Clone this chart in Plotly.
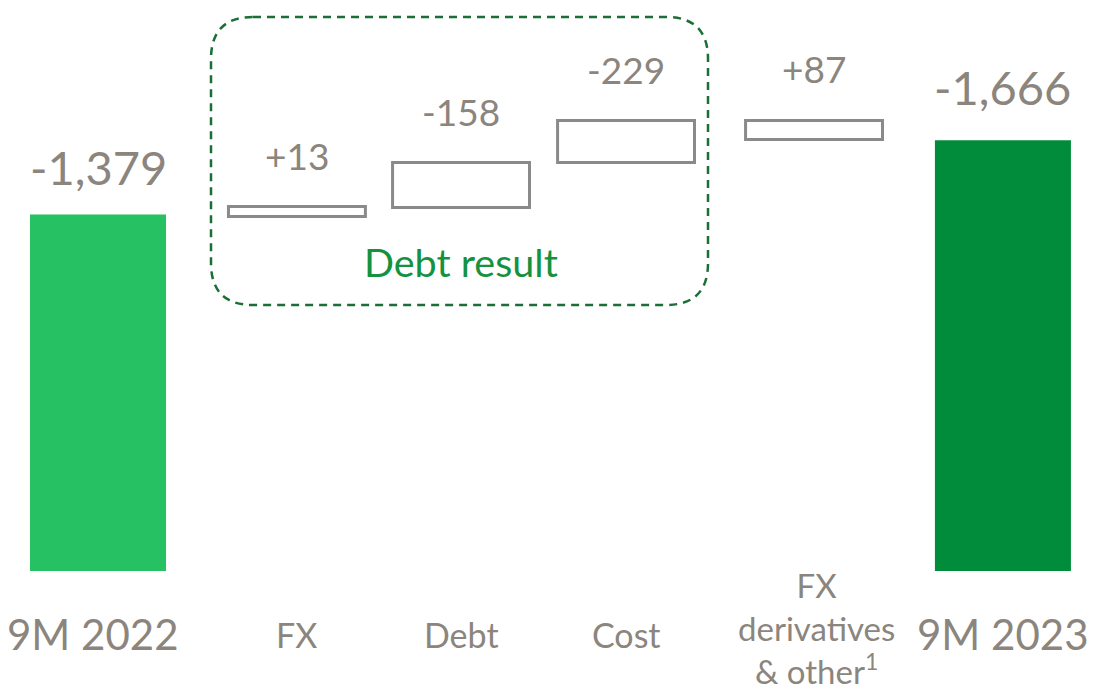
import plotly.graph_objects as go

# ---------------- data ----------------
categories = ["9M 2022", "FX", "Debt", "Cost", "FX<br>derivatives<br>& other<sup>1</sup>", "9M 2023"]
value_labels = ["-1,379", "+13", "-158", "-229", "+87", "-1,666"]

# totals (drawn as solid bars from zero)
total_values = [1379, 1666]
# intermediate steps (hollow boxes), levels
step_low = [1371, 1406, 1580, 1669]
step_high = [1410, 1580, 1743, 1743]

# ---------------- layout helpers ----------------
W, H = 1094, 688
x_pos = [0.0, 1.091, 1.991, 2.896, 3.927, 4.963]
x_range = [-0.5375, 5.4625]
y_scale = 0.2585           # px per unit
base_px = 571              # pixel row of zero
y_max = base_px / y_scale
y_min = -(H - base_px) / y_scale

text_color = "#8b857d"
green_light = "#26c163"
green_dark = "#008c3a"
box_color = "#8a8a8a"

fig = go.Figure()

fig.add_trace(go.Bar(
    x=[x_pos[0], x_pos[5]],
    y=total_values,
    base=[0, 0],
    width=0.746,
    marker=dict(color=[green_light, green_dark], line=dict(width=0)),
    hoverinfo="skip",
))

fig.add_trace(go.Bar(
    x=x_pos[1:5],
    y=[h - l for l, h in zip(step_low, step_high)],
    base=step_low,
    width=0.751,
    marker=dict(color="rgba(255,255,255,1)", line=dict(color=box_color, width=3)),
    hoverinfo="skip",
))

tops = [total_values[0]] + step_high + [total_values[1]]
big = [True, False, False, False, False, True]
val_shift = [48, 51, 51, 51, 52, 53]
lab_xshift = [-5, 0, 0, 0, 2, 0]
lab_center = [634, 634, 634, 634, 628, 634]

annotations = []
for xp, top, lab, b, ys in zip(x_pos, tops, value_labels, big, val_shift):
    annotations.append(dict(
        x=xp, y=top, xref="x", yref="y", text=lab, showarrow=False,
        yanchor="middle", yshift=ys,
        font=dict(family="Lato", size=47 if b else 37, color=text_color),
    ))

for i, (xp, lab) in enumerate(zip(x_pos, categories)):
    b = big[i]
    multi = "<br>" in lab
    annotations.append(dict(
        x=xp, y=0, xref="x", yref="y", text=lab, showarrow=False,
        yanchor="middle", yshift=-(lab_center[i] - base_px), xshift=lab_xshift[i],
        borderpad=0,
        font=dict(family="Lato", size=42 if b else (33 if multi else 34), color=text_color),
    ))

annotations.append(dict(
    x=(x_pos[1] + x_pos[3]) / 2 - 0.003, y=(base_px - 261) / y_scale, xref="x", yref="y",
    text="Debt result", showarrow=False, yanchor="middle",
    font=dict(family="Lato", size=39.5, color="#14923f"),
))

x0p, x1p, y0p, y1p, r = 211, 708, 17, 305, 42
def P(px, py):
    return f"{px / W:.5f},{1 - py / H:.5f}"
path = (f"M {P(x0p + r, y0p)} L {P(x1p - r, y0p)} Q {P(x1p, y0p)} {P(x1p, y0p + r)} "
        f"L {P(x1p, y1p - r)} Q {P(x1p, y1p)} {P(x1p - r, y1p)} "
        f"L {P(x0p + r, y1p)} Q {P(x0p, y1p)} {P(x0p, y1p - r)} "
        f"L {P(x0p, y0p + r)} Q {P(x0p, y0p)} {P(x0p + r, y0p)} Z")

fig.update_layout(
    width=W, height=H,
    margin=dict(l=0, r=0, t=0, b=0),
    paper_bgcolor="white", plot_bgcolor="white",
    barmode="overlay",
    showlegend=False,
    xaxis=dict(range=x_range, visible=False, fixedrange=True),
    yaxis=dict(range=[y_min, y_max], visible=False, fixedrange=True),
    annotations=annotations,
    shapes=[dict(type="path", xref="paper", yref="paper", path=path,
                 line=dict(color="#1b6e35", width=2.5, dash="8px,6px"))],
)

fig.write_html("out.html", config={"displayModeBar": False},
               post_script="document.body.style.margin='0';document.body.style.overflow='hidden';")
